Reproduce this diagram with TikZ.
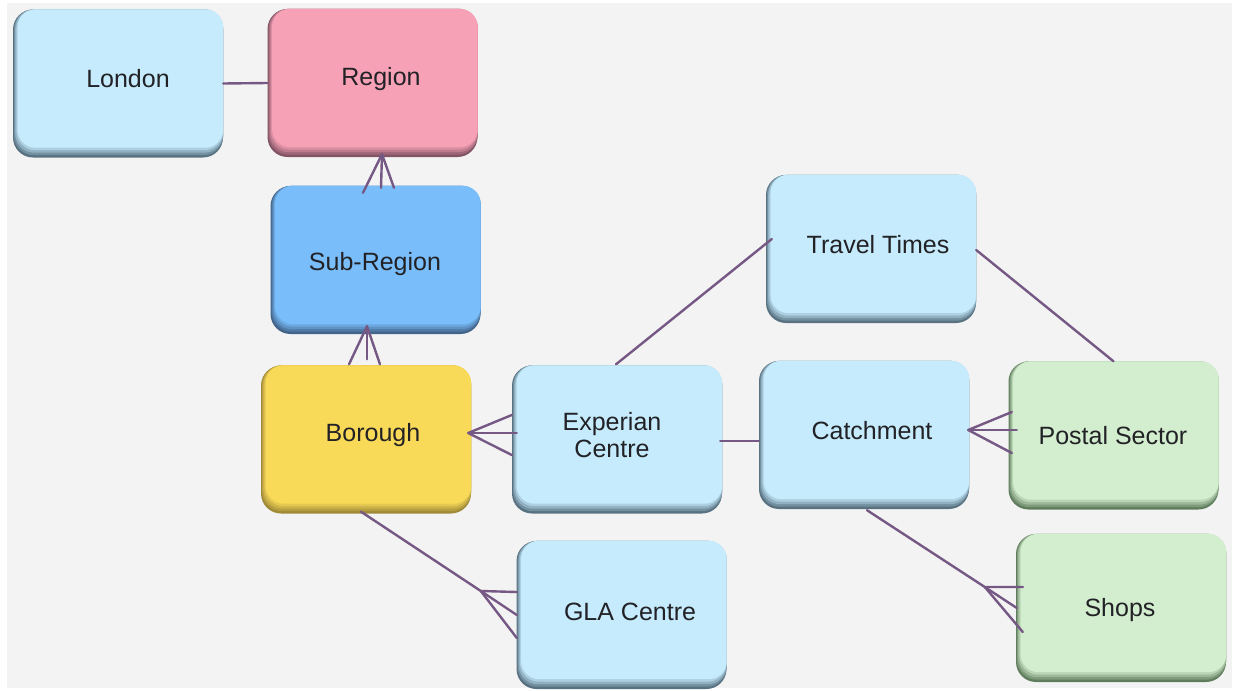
\documentclass[tikz,border=0pt]{standalone}
\usepackage{fontspec}
\setmainfont{Liberation Sans}
\usetikzlibrary{calc}

\definecolor{bg}{RGB}{243,243,243}
\definecolor{link}{RGB}{118,88,132}
\definecolor{ink}{RGB}{34,34,38}
\definecolor{lbF}{RGB}{197,235,252}
\definecolor{lbS}{RGB}{88,114,130}
\definecolor{rgF}{RGB}{247,161,182}
\definecolor{rgS}{RGB}{130,84,100}
\definecolor{sbF}{RGB}{121,190,251}
\definecolor{sbS}{RGB}{66,100,138}
\definecolor{yeF}{RGB}{249,217,88}
\definecolor{yeS}{RGB}{160,138,56}
\definecolor{grF}{RGB}{211,237,207}
\definecolor{grS}{RGB}{96,126,94}

\tikzset{
  ebox/.style={rounded corners=20pt, minimum width=210pt, minimum height=148pt,
    inner sep=0pt, draw=none},
  label text/.style={text=ink, font=\fontsize{25}{27}\selectfont, inner sep=0pt},
  link line/.style={draw=link, line width=2.4pt, line cap=round, line join=round},
}

% entity box: name, centre, colour prefix (F = face, S = shadow rim)
\newcommand\entity[3]{%
  \node[ebox, fill=#3S] (#1) at (#2) {};
  \fill[#3S!75!#3F, rounded corners=20pt]
    ($(#1.north west)+(1.2,0)$) rectangle ($(#1.south east)+(0,-2.5)$);
  \fill[#3S!48!#3F, rounded corners=19pt]
    ($(#1.north west)+(2.4,0)$) rectangle ($(#1.south east)+(0,-5)$);
  \fill[#3S!22!#3F, rounded corners=19pt]
    ($(#1.north west)+(3.6,0)$) rectangle ($(#1.south east)+(0,-7.5)$);
  \fill[#3F, rounded corners=18pt]
    ($(#1.north west)+(4.8,0)$) rectangle ($(#1.south east)+(0,-10)$);
}

\begin{document}
\begin{tikzpicture}[x=1pt, y=-1pt]
  \path[use as bounding box] (0,0) rectangle (1243,691);
  \fill[white] (0,0) rectangle (1243,691);
  \fill[bg] (7,3) rectangle (1232,688);

  % entities
  \entity{london}{118,83.5}{lb}
  \entity{region}{372.5,83}{rg}
  \entity{subregion}{375.5,260}{sb}
  \entity{borough}{366,439.5}{ye}
  \entity{experian}{617,439.5}{lb}
  \entity{gla}{621.5,615}{lb}
  \entity{travel}{871,249}{lb}
  \entity{catchment}{864,435}{lb}
  \entity{postal}{1113.5,435.5}{gr}
  \entity{shops}{1121,608}{gr}

  % labels
  \node[label text, anchor=base] (londonT) at (128,87) {London};
  \node[label text, anchor=base] (regionT) at (381,85) {Region};
  \node[label text, anchor=base] (subregionT) at (375,270) {Sub-Region};
  \node[label text, anchor=base] (boroughT) at (373,441) {Borough};
  \node[label text, align=center] (experianT) at (612,435) {Experian\\Centre};
  \node[label text, anchor=base] (glaT) at (630,620) {GLA Centre};
  \node[label text, anchor=base] (travelT) at (878,253) {Travel Times};
  \node[label text, anchor=base] (catchmentT) at (872,439) {Catchment};
  \node[label text, anchor=base] (postalT) at (1113,444) {Postal Sector};
  \node[label text, anchor=base] (shopsT) at (1120,616) {Shops};

  % relationships
  \begin{scope}[link line]
    % London -- Region
    \draw (london.east) -- (region.west);

    % Region -< Sub-Region
    \coordinate (rsA) at ($(region.south)+(9.5,-3)$);
    \draw ($(subregion.north)+(-12.5,7)$) -- (rsA) -- ($(subregion.north)+(18.5,2)$);
    \draw (rsA) -- ($(subregion.north)+(5.5,2)$);

    % Sub-Region -< Borough
    \coordinate (sbA) at ($(subregion.south)+(-8.5,-8)$);
    \draw ($(borough.north)+(-17,-1)$) -- (sbA) -- ($(borough.north)+(14,-1)$);
    \draw (sbA) -- ($(borough.north)+(1,-6)$);

    % Borough -< Experian Centre
    \coordinate (beA) at ($(borough.east)+(-3,-6.5)$);
    \draw ($(experian.west)+(0,-24.5)$) -- (beA) -- ($(experian.west)+(0,15.5)$);
    \draw (beA) -- ($(experian.west)+(5,-6.5)$);

    % Borough -< GLA Centre
    \coordinate (bgA) at ($(gla.west)+(-35.5,-24)$);
    \draw ($(borough.south)+(-5,-2)$) -- (bgA) -- ($(gla.west)+(0.5,-23)$);
    \draw (bgA) -- ($(gla.west)+(0.5,0)$);
    \draw (bgA) -- ($(gla.west)+(0.5,23)$);

    % Experian Centre -- Catchment
    \coordinate (ecA) at ($(experian.east)+(-2,1.5)$);
    \draw (ecA) -- (ecA -| catchment.west);

    % Experian Centre -- Travel Times -- Postal Sector
    \draw ($(experian.north)+(-1,-1)$) -- ($(travel.west)+(6,-10)$);
    \draw ($(travel.east)+(0,1)$) -- (postal.north);

    % Catchment >- Postal Sector
    \coordinate (cpA) at ($(catchment.east)+(-1,-5)$);
    \draw ($(postal.west)+(3.5,-23.5)$) -- (cpA) -- ($(postal.west)+(3.5,17.5)$);
    \draw (cpA) -- ($(postal.west)+(8.5,-5.5)$);

    % Catchment -< Shops
    \coordinate (csA) at ($(shops.west)+(-31,-21)$);
    \draw ($(catchment.south)+(3,1)$) -- (csA) -- ($(shops.west)+(7,-21)$);
    \draw (csA) -- ($(shops.west)+(1,0)$);
    \draw (csA) -- ($(shops.west)+(7,24)$);
  \end{scope}
\end{tikzpicture}
\end{document}
